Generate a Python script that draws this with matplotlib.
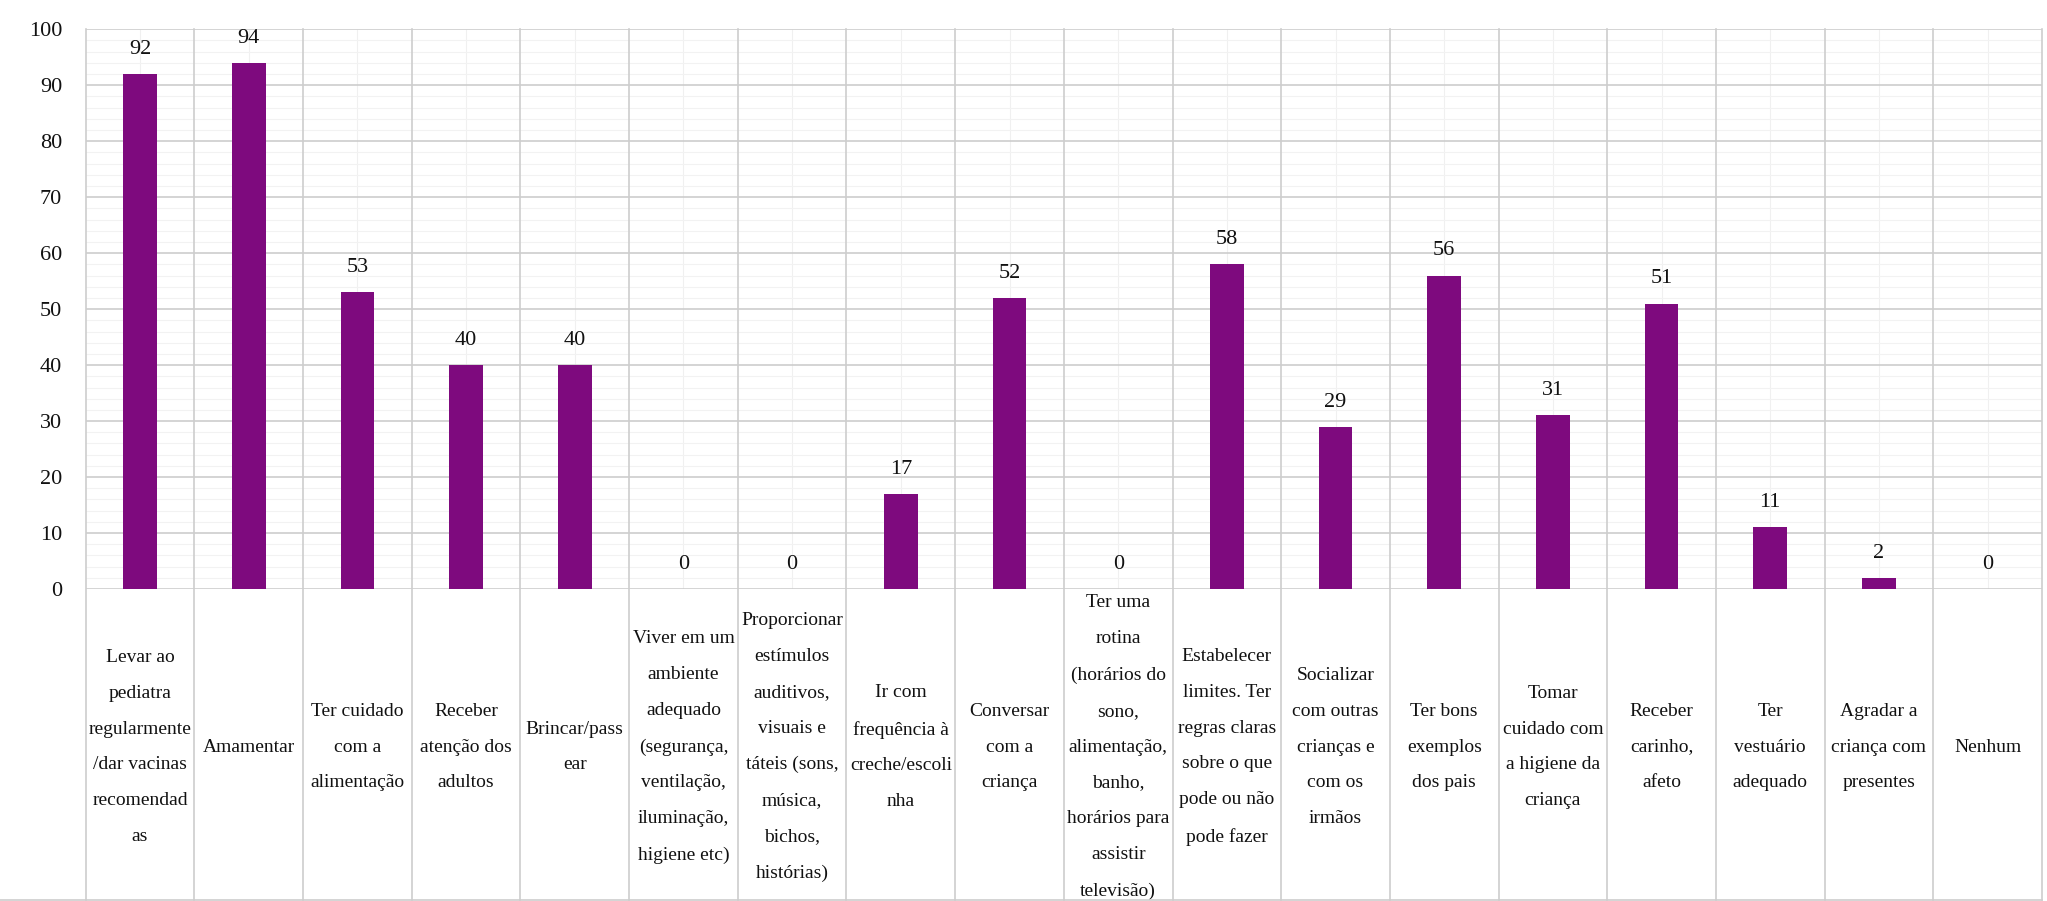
import matplotlib
matplotlib.use("Agg")
import matplotlib.pyplot as plt
import matplotlib.transforms as mtransforms
from matplotlib.lines import Line2D
from matplotlib.ticker import MultipleLocator
import numpy as np

plt.rcParams["font.family"] = ["Liberation Serif", "DejaVu Serif"]

categories = [
    "Levar ao\npediatra\nregularmente\n/dar vacinas\nrecomendad\nas",
    "Amamentar",
    "Ter cuidado\ncom a\nalimentação",
    "Receber\natenção dos\nadultos",
    "Brincar/pass\near",
    "Viver em um\nambiente\nadequado\n(segurança,\nventilação,\niluminação,\nhigiene etc)",
    "Proporcionar\nestímulos\nauditivos,\nvisuais e\ntáteis (sons,\nmúsica,\nbichos,\nhistórias)",
    "Ir com\nfrequência à\ncreche/escoli\nnha",
    "Conversar\ncom a\ncriança",
    "Ter uma\nrotina\n(horários do\nsono,\nalimentação,\nbanho,\nhorários para\nassistir\ntelevisão)",
    "Estabelecer\nlimites. Ter\nregras claras\nsobre o que\npode ou não\npode fazer",
    "Socializar\ncom outras\ncrianças e\ncom os\nirmãos",
    "Ter bons\nexemplos\ndos pais",
    "Tomar\ncuidado com\na higiene da\ncriança",
    "Receber\ncarinho,\nafeto",
    "Ter\nvestuário\nadequado",
    "Agradar a\ncriança com\npresentes",
    "Nenhum",
]
values = [92, 94, 53, 40, 40, 0, 0, 17, 52, 0, 58, 29, 56, 31, 51, 11, 2, 0]
y_ticks = list(range(0, 101, 10))

BAR_COLOR = "#7E0A7E"
GRID_COLOR = "#cdcdcd"
TEXT_COLOR = "#111111"

W, H = 2047, 901
fig = plt.figure(figsize=(W / 100, H / 100), dpi=100)
left_px, right_px, top_px, zero_px, foot_px = 85.7, 2042.0, 29.3, 589.0, 899.5
ax = fig.add_axes([left_px / W, 1 - zero_px / H,
                   (right_px - left_px) / W, (zero_px - top_px) / H])

n = len(categories)
x = np.arange(n)
ax.bar(x, values, width=0.31, color=BAR_COLOR, zorder=3)
ax.set_xlim(-0.5, n - 0.5)
ax.set_ylim(0, 100)
ax.set_yticks(y_ticks)
ax.yaxis.set_minor_locator(MultipleLocator(2))
ax.grid(axis="y", which="major", color=GRID_COLOR, lw=1.2, zorder=0)
ax.grid(axis="y", which="minor", color="#f2f2f2", lw=0.8, zorder=0)
ax.vlines(x, 0, 100, color="#f0f0f0", lw=0.8, zorder=0)
ax.set_axisbelow(True)
for s in ax.spines.values():
    s.set_visible(False)
ax.tick_params(axis="y", which="both", length=0, pad=17, labelsize=16,
               labelcolor=TEXT_COLOR)
ax.set_xticks([])

# column separators running from the top of the plot down through the label band
trans = mtransforms.blended_transform_factory(ax.transData, ax.transAxes)
plot_h = zero_px - top_px
bottom_ax = (zero_px - foot_px) / plot_h
for b in np.arange(-0.5, n):
    ax.add_line(Line2D([b, b], [bottom_ax, 1], transform=trans, color=GRID_COLOR,
                       lw=1.2, clip_on=False, zorder=1))
fig.add_artist(Line2D([0, right_px / W], [1 - foot_px / H] * 2,
                      transform=fig.transFigure, color=GRID_COLOR, lw=1.2))

# category labels centred in each column
label_y = (zero_px - 747) / plot_h
for i, cat in enumerate(categories):
    ax.text(i, label_y, cat, transform=trans, ha="center", va="center",
            fontsize=14, linespacing=2.45, color=TEXT_COLOR, clip_on=False)

# value labels above the bars
for i, v in enumerate(values):
    ax.annotate(str(v), (i, v), xytext=(0, 14.5), textcoords="offset points",
                ha="center", va="baseline", fontsize=16, color=TEXT_COLOR)

fig.savefig("out.png", dpi=100, facecolor="white")
